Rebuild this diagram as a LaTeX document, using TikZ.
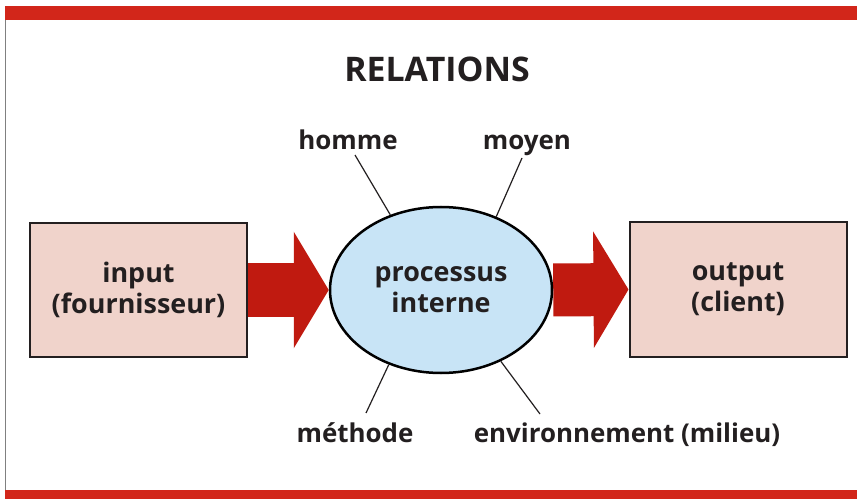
\documentclass[tikz,border=0pt]{standalone}
\usepackage{fontspec}
\setmainfont{Open Sans}
\usetikzlibrary{shapes.geometric,arrows.meta,backgrounds}
\definecolor{bandred}{HTML}{D2261A}
\definecolor{arrred}{HTML}{C01A10}
\definecolor{boxfill}{HTML}{F0D3CB}
\definecolor{ellfill}{HTML}{C8E4F6}
\definecolor{ink}{HTML}{231F20}
\begin{document}
\begin{tikzpicture}[x=1bp,y=-1bp,
  lbl/.style={font=\bfseries\fontsize{26}{30}\selectfont, text=ink, inner sep=0pt, anchor=base},
  box/.style={draw=ink, line width=2bp, fill=boxfill, minimum width=217bp, minimum height=134bp, align=center, inner sep=0pt, font=\bfseries\fontsize{27}{31}\selectfont, text=ink},
  proc/.style={ellipse, draw=black, line width=2.5bp, fill=ellfill, minimum width=222bp, minimum height=166bp, inner sep=0pt, align=center, font=\bfseries\fontsize{27}{31}\selectfont, text=ink},
  bigarrow/.style={draw=arrred, line width=53bp, -{Triangle[length=35bp,width=115bp]}},
  tie/.style={draw=ink, line width=1.2bp}]
\useasboundingbox (0,0) rectangle (857,499);
\node[lbl, font=\bfseries\fontsize{34}{38}\selectfont] (title) at (437,82) {RELATIONS};
\node[box] (in) at (138.5,290) {input\\(fournisseur)};
\node[box] (out) at (738,289.5) {output\\(client)};
\node[proc] (proc) at (441,290) {processus\\interne};
\node[lbl] (homme) at (348,150) {homme};
\node[lbl] (moyen) at (527,150) {moyen};
\node[lbl] (methode) at (355,442) {méthode};
\node[lbl] (env) at (627,442) {environnement (milieu)};
\coordinate (h1) at (355,155);
\coordinate (m1) at (522,158);
\coordinate (d1) at (366,413);
\coordinate (e1) at (540,414);
\draw[tie] (h1) -- (proc.124);
\draw[tie] (m1) -- (proc.53);
\draw[tie] (d1) -- (proc.235);
\draw[tie] (e1) -- (proc.310);
\begin{scope}[on background layer]
\fill[white] (0,0) rectangle (857,499);
\fill[bandred] (5,6) rectangle (857,20);
\fill[bandred] (5,490) rectangle (857,499);
\draw[gray, line width=1bp] (5,20) -- (5,490);
\draw[bigarrow] (in.east) -- (proc.west);
\draw[bigarrow] (proc.east) -- (out.west);
\end{scope}
\end{tikzpicture}
\end{document}
